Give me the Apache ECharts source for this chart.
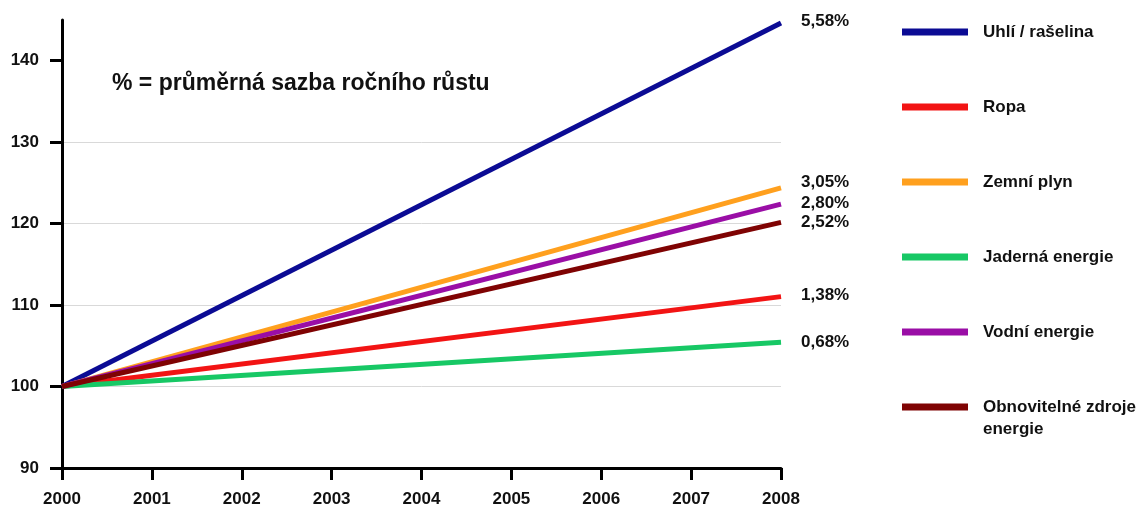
<!DOCTYPE html>
<html>
<head>
<meta charset="utf-8">
<script src="https://cdn.jsdelivr.net/npm/echarts@6/dist/echarts.min.js"></script>
<style>
  html, body { margin: 0; padding: 0; background: #fff; }
  #chart { width: 1144px; height: 508px; }
</style>
</head>
<body>
<div id="chart"></div>
<script>
// Energy sources, index 2000 = 100
const sources = ['Uhlí / rašelina', 'Ropa', 'Zemní plyn', 'Jaderná energie', 'Vodní energie', 'Obnovitelné zdroje\nenergie'];
const growthRates = ['5,58%', '1,38%', '3,05%', '0,68%', '2,80%', '2,52%'];
const years = [2000, 2008];
const startValues = [100, 100, 100, 100, 100, 100];
const endValues = [144.64, 111.04, 124.4, 105.44, 122.4, 120.16];
const yTicks = [90, 100, 110, 120, 130, 140];
const note = '% = průměrná sazba ročního růstu';

const colors = ['#0b0b94', '#f21414', '#ffa01e', '#17c865', '#9a0ea6', '#7f0303'];
const labelNudge = [-2, -1, -5, 0, -1, 0];

const FONT = '"Liberation Sans", Arial, sans-serif';
const TEXT = '#111';

const chart = echarts.init(document.getElementById('chart'), null, { renderer: 'canvas' });

const series = sources.map((name, i) => ({
  name: name,
  type: 'line',
  data: [[years[0], startValues[i]], [years[1], endValues[i]]],
  showSymbol: false,
  symbol: 'none',
  lineStyle: { color: colors[i], width: 5 },
  itemStyle: { color: colors[i] },
  silent: true,
  z: 3 + i,
  endLabel: {
    show: true,
    formatter: () => growthRates[i],
    offset: [12, labelNudge[i]],
    color: TEXT,
    fontFamily: FONT,
    fontWeight: 'bold',
    fontSize: 17
  }
}));

// Legend rows show the first line of each name; a wrapped second line is
// written underneath its row.
const legendData = sources.map((name, i) => ({ name: name, icon: 'rect', itemStyle: { color: colors[i] } }));
const LEGEND_LEFT = 902, LEGEND_TOP = 21, LEGEND_ROW = 22, LEGEND_GAP = 53, SYMBOL_W = 66;
const wrapped = [];
sources.forEach((name, i) => {
  const parts = name.split('\n');
  for (let k = 1; k < parts.length; k++) {
    wrapped.push({
      type: 'text',
      x: LEGEND_LEFT + SYMBOL_W + 15,
      y: LEGEND_TOP + i * (LEGEND_ROW + LEGEND_GAP) + LEGEND_ROW / 2 + k * 22,
      style: {
        text: parts[k],
        fill: TEXT,
        font: 'bold 17px ' + FONT,
        verticalAlign: 'middle'
      }
    });
  }
});

chart.setOption({
  animation: false,
  backgroundColor: '#fff',
  grid: { left: 62, top: 20, width: 719, bottom: 40, containLabel: false },
  xAxis: {
    type: 'value',
    min: 2000,
    max: 2008,
    interval: 1,
    axisLine: { show: true, lineStyle: { color: '#000', width: 3 } },
    axisTick: { show: true, length: 12, lineStyle: { color: '#000', width: 3 } },
    axisLabel: {
      margin: 23,
      color: TEXT,
      fontFamily: FONT,
      fontWeight: 'bold',
      fontSize: 17,
      formatter: v => String(v)
    },
    splitLine: { show: false }
  },
  yAxis: {
    type: 'value',
    min: 90,
    max: 145,
    interval: 10,
    axisLine: { show: true, lineStyle: { color: '#000', width: 3 } },
    axisTick: { show: true, length: 12, customValues: yTicks, lineStyle: { color: '#000', width: 3 } },
    axisLabel: {
      margin: 23,
      customValues: yTicks,
      color: TEXT,
      fontFamily: FONT,
      fontWeight: 'bold',
      fontSize: 17
    },
    splitLine: {
      show: true,
      showMinLine: false,
      showMaxLine: false,
      lineStyle: { color: '#d9d9d9', width: 1 }
    }
  },
  legend: {
    orient: 'vertical',
    left: LEGEND_LEFT,
    top: LEGEND_TOP,
    padding: 0,
    icon: 'rect',
    itemWidth: SYMBOL_W,
    itemHeight: 7,
    itemGap: LEGEND_GAP,
    selectedMode: false,
    data: legendData,
    formatter: name => name.split('\n')[0],
    textStyle: {
      color: TEXT,
      fontFamily: FONT,
      fontWeight: 'bold',
      fontSize: 17,
      lineHeight: LEGEND_ROW,
      padding: [0, 0, 0, 10]
    }
  },
  graphic: [{
    type: 'text',
    x: 112,
    y: 84,
    style: {
      text: note,
      fill: TEXT,
      font: 'bold 23px ' + FONT,
      verticalAlign: 'middle'
    }
  }].concat(wrapped),
  series: series
});
</script>
</body>
</html>
